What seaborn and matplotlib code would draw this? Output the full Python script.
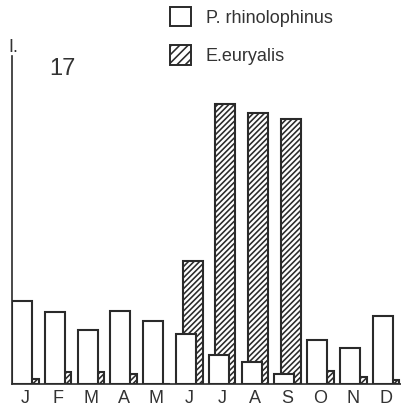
import numpy as np
import pandas as pd
import matplotlib
matplotlib.use("Agg")
import matplotlib.pyplot as plt
from matplotlib.patches import Patch
import seaborn as sns

# ---- data ----
months = ["J", "F", "M", "A", "M", "J", "J", "A", "S", "O", "N", "D"]
p_rhinolophinus = [83, 72, 54, 73, 63, 50, 29, 22, 10, 44, 36, 68]
e_euryalis = [5, 12, 12, 10, 0, 123, 280, 271, 265, 13, 7, 4]
series_names = ["P. rhinolophinus", "E.euryalis"]
panel_label = "17"
axis_label = "I."

sns.set_theme(style="white")
plt.rcParams["font.family"] = ["Liberation Sans", "DejaVu Sans"]
plt.rcParams["hatch.linewidth"] = 1.15

EDGE = "#2a2a2a"
TEXT = "#333333"
HATCH = "//////"

fig = plt.figure(figsize=(4.01, 4.07), dpi=100)
ax = fig.add_axes([12 / 401, 23 / 407, 389 / 401, 328 / 407])

idx = np.arange(len(months))
df = pd.DataFrame({
    "pos_w": idx - 0.1,
    "pos_h": idx + 0.1,
    "w": p_rhinolophinus,
    "h": e_euryalis,
})

# hatched series drawn first (behind), white series on top
sns.barplot(data=df, x="pos_h", y="h", native_scale=True, width=0.61,
            color="white", saturation=1, edgecolor=EDGE, linewidth=1.5,
            hatch=HATCH, errorbar=None, ax=ax, zorder=2)
sns.barplot(data=df, x="pos_w", y="w", native_scale=True, width=0.61,
            color="white", saturation=1, edgecolor=EDGE, linewidth=1.5,
            errorbar=None, ax=ax, zorder=3)

ax.set_xlim(-0.405, 11.455)
ax.set_ylim(0, 328)
ax.set_xticks(idx)
ax.set_xticklabels(months, fontsize=13, color=TEXT)
ax.tick_params(axis="x", length=0, pad=4)
ax.set_yticks([])
ax.set_xlabel("")
ax.set_ylabel("")
for s in ["top", "right"]:
    ax.spines[s].set_visible(False)
for s in ["left", "bottom"]:
    ax.spines[s].set_color(EDGE)
    ax.spines[s].set_linewidth(1.2)

handles = [
    Patch(facecolor="white", edgecolor=EDGE, linewidth=1.4),
    Patch(facecolor="white", edgecolor=EDGE, linewidth=1.4, hatch="////"),
]
fig.legend(handles, series_names, loc="upper left",
           bbox_to_anchor=(170 / 401, 1 - 7 / 407), frameon=False,
           fontsize=13, handlelength=1.16, handleheight=1.28,
           handletextpad=0.83, labelspacing=1.02, borderpad=0,
           borderaxespad=0, labelcolor=TEXT)

fig.text(49 / 401, 1 - 75 / 407, panel_label, fontsize=17, va="baseline",
         color=TEXT)
fig.text(8 / 401, 1 - 52 / 407, axis_label, fontsize=13, va="baseline",
         color=TEXT)

fig.savefig("out.png", dpi=100)
